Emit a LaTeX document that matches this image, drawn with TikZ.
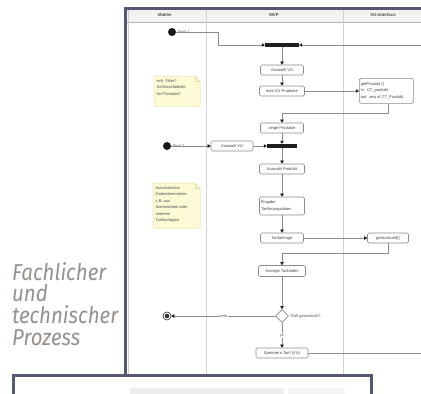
\documentclass[tikz,border=0pt]{standalone}
\usepackage{fontspec}
\setmainfont{Liberation Sans}
\newfontfamily\capfont{Fira Sans}[FakeStretch=0.89]
\usetikzlibrary{arrows.meta,shapes.geometric,calc}
\definecolor{framec}{RGB}{84,88,114}
\definecolor{capc}{RGB}{152,144,138}
\definecolor{notefill}{RGB}{253,251,214}
\definecolor{notedraw}{RGB}{225,220,160}
\begin{document}
\begin{tikzpicture}[x=1pt,y=-1pt,
  frame/.style={draw=framec,line width=3pt},
  lane/.style={draw=black!18,line width=0.5pt},
  tinyf/.style={font=\fontsize{4}{6.5}\selectfont},
  box/.style={tinyf,draw=black!45,rounded corners=1.5pt,fill=white,inner sep=1pt,
    minimum height=10pt,line width=0.6pt,text=black!75},
  conn/.style={draw=black!45,line width=0.5pt},
  arr/.style={conn,-{Triangle[length=3pt,width=3.4pt,color=black!90]}},
  bar/.style={fill=black!88,inner sep=0,minimum height=4pt},
  startn/.style={circle,fill=black!90,inner sep=0,minimum size=8pt},
  lbl/.style={tinyf,text=black!70,inner sep=0.5pt},
  hdr/.style={font=\bfseries\fontsize{4.3}{5}\selectfont,text=black!70},
  notetext/.style={tinyf,text=black!70,align=left,anchor=north west,inner sep=0},
  captext/.style={font=\capfont\itshape\fontsize{23}{23}\selectfont,text=capc,anchor=base west,inner sep=0}
]
\useasboundingbox (0,0) rectangle (421,394);
\fill[white] (0,0) rectangle (421,394);

% header band and lanes
\fill[black!5] (126.5,9.5) rectangle (421,22);
\draw[black!30,line width=0.5pt] (126.5,22) -- (421,22);
\draw[lane] (206,9.5) -- (206,373.5);
\draw[lane] (343,9.5) -- (343,373.5);
\draw[black!20,line width=0.4pt] (128,9.5) -- (128,373.5);
\node[hdr] (h1) at (165,15) {Makler};
\node[hdr] (h2) at (274,15) {MVP};
\node[hdr] (h3) at (383,15) {VU-Interface};

% frames
\draw[frame] (125,375) -- (125,8) -- (421,8);
\draw[frame] (13,394) -- (13,375) -- (371,375) -- (371,394);
\fill[black!7] (130,388) rectangle (284,394);
\fill[black!4] (288,388) rectangle (345,394);

% caption
\node[captext] (c1) at (12,280) {Fachlicher};
\node[captext] (c2) at (12,301.5) {und};
\node[captext] (c3) at (12,323.5) {technischer};
\node[captext] (c4) at (12,345.5) {Prozess};

% notes
\filldraw[fill=notefill,draw=notedraw,line width=0.5pt] (154,76) -- (195,76) -- (200,81) -- (200,106) -- (154,106) -- cycle;
\draw[notedraw,line width=0.5pt] (195,76) -- (195,81) -- (200,81);
\node[notetext] (n1) at (156.5,79) {evtl. Filter?\\Schlüsseltabelle\\für Produkte?};
\filldraw[fill=notefill,draw=notedraw,line width=0.5pt] (153,183) -- (195,183) -- (200,188) -- (200,228) -- (153,228) -- cycle;
\draw[notedraw,line width=0.5pt] (195,183) -- (195,188) -- (200,188);
\node[notetext] (n2) at (155.5,186) {Automatische\\Datenübernahme,\\z.B. aus\\Stammdaten oder\\anderen\\Tarifanfragen};

% nodes
\node[startn] (s1) at (172,32) {};
\node[lbl,anchor=west] (s1l) at (177,32) {Start 1};
\node[bar,minimum width=34pt] (bar1) at (282,45) {};
\node[box,minimum width=43pt] (av1) at (282,70) {Auswahl VU};
\node[box,minimum width=45pt] (hole) at (282,91) {hole VU-Produkte};
\node[box,minimum width=54pt,minimum height=25pt,align=left,anchor=north west,text width=51pt] (getP) at (359,78) {getProdukt ()\\in: CT\_produkt\\out: seq of CT\_Produkt};
\node[box,minimum width=43pt] (zeige) at (282,128) {zeige Produkte};
\node[startn] (s2) at (167,146) {};
\node[lbl,anchor=west] (s2l) at (172,146) {Start 2};
\node[box,minimum width=42pt] (av2) at (232,146) {Auswahl VU};
\node[bar,minimum width=30pt] (bar2) at (282,146) {};
\node[box,minimum width=45pt] (ap) at (282,169) {Auswahl Produkt};
\node[box,minimum width=45pt,minimum height=18pt,align=left,text width=42pt] (eing) at (282,206) {Eingabe\\Tarifierungsdaten};
\node[box,minimum width=43pt] (tarif) at (282,238) {Tarifanfrage};
\node[box,minimum width=41pt] (getA) at (388,238) {getAuskunft()};
\node[box,minimum width=47pt,minimum height=11pt] (anz) at (282,271) {Anzeige Tarifdaten};
\node[diamond,draw=black!45,fill=white,line width=0.6pt,inner sep=0,minimum size=13pt] (dia) at (282,316) {};
\node[lbl,anchor=west] (dial) at (290,316) {Tarif gewünscht?};
\node[circle,draw=black!80,fill=white,line width=0.6pt,inner sep=0,minimum size=8pt,
  path picture={\fill[black!80] (path picture bounding box.center) circle (2.3pt);}] (endn) at (167,316) {};
\node[box,minimum width=52pt] (spe) at (282,353) {Speichern Tarif (VU)};

\coordinate (r1) at (421,45);
\coordinate (k1) at (218,32);
\coordinate (j1) at (282,113);
\coordinate (j2) at (282,253);
\coordinate (r2) at (421,353);

% connectors
\draw[arr] (s1) -- (k1) |- (bar1.west);
\draw[arr] (r1) -- (bar1.east);
\draw[arr] (bar1) -- (av1);
\draw[arr] (av1) -- (hole);
\draw[arr] (hole.east) -- (hole.east -| getP.west);
\draw[arr] ($(getP.south)+(2,0)$) |- (j1) -- (zeige.north);
\draw[arr] (zeige) -- (bar2);
\draw[arr] (s2) -- (av2);
\draw[arr] (av2) -- (bar2.west);
\draw[arr] (bar2) -- (ap);
\draw[arr] (ap) -- (eing);
\draw[arr] (eing) -- (tarif);
\draw[arr] (tarif) -- (getA);
\draw[arr] (getA.south) |- (j2) -- (anz.north);
\draw[arr] (anz) -- (dia.north);
\draw[arr] (dia.west) -- node[lbl,fill=white,pos=0.5] (nein) {nein} (endn);
\draw[arr] (dia.south) -- node[lbl,fill=white,pos=0.5] (ja) {ja} (spe.north);
\draw[conn] (spe.east) -- (r2);
\end{tikzpicture}
\end{document}
